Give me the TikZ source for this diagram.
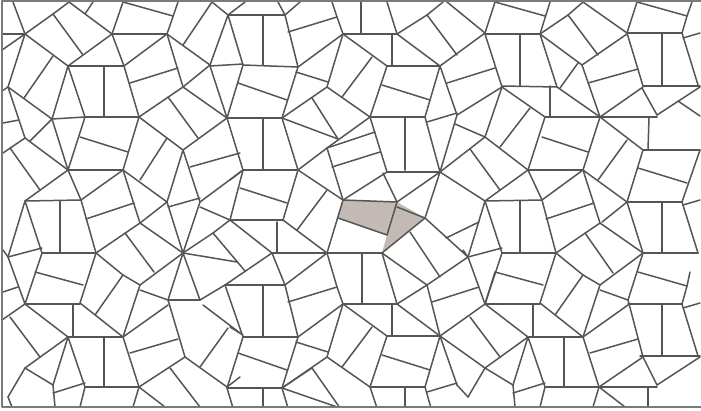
\documentclass[tikz,border=0pt]{standalone}
\usepackage{tikz}
\definecolor{TileLine}{HTML}{555555}
\definecolor{TileFill}{HTML}{C4BAB5}
\definecolor{FrameGrey}{HTML}{7A7A7A}

\begin{document}
\begin{tikzpicture}[x=1pt, y=-1pt, line cap=round, line join=round]
    \tikzstyle{edge} = [draw=TileLine, line width=1.5pt]
    \tikzstyle{marked} = [fill=TileFill, draw=none]
    \tikzstyle{frame} = [draw=FrameGrey, line width=1.6pt]
    \useasboundingbox (0,0) rectangle (701,410);

    % the highlighted tile pair
    \path [marked] (343,200) -- (397,202) -- (425,218) -- (382,253) -- (387,235) -- (338,218) -- cycle;

    \begin{scope}
    \clip (2,1) rectangle (701,407);
    % upper left
    \foreach \xa/\ya/\xb/\yb in {13/2/25/34, 2/34/25/34, 25/34/2/50, 25/34/53/14, 53/14/69/2, 69/2/112/34,
        85/14/93/2, 53/14/83/55, 68/66/112/34, 25/34/68/66, 25/34/8/87, 8/87/52/119, 53/56/24/98,
        68/66/52/119, 68/66/85/117, 68/66/124/66, 104/66/104/117, 85/117/139/117, 124/66/139/117,
        112/34/123/2, 123/2/173/16, 167/34/178/2, 112/34/167/34, 112/34/124/66, 124/66/167/34,
        167/34/183/87, 130/83/178/68, 139/117/183/87, 167/34/210/65, 183/45/212/2, 212/2/228/15,
        228/15/210/65, 210/65/183/87, 210/66/243/64, 210/66/227/118, 183/87/227/118, 168/97/198/138,
        139/117/183/150, 227/118/183/150, 52/119/85/117, 52/119/68/170, 85/117/68/170, 52/119/30/141,
        8/87/25/138, 8/87/2/91, 3/123/19/120, 80/137/128/152, 139/117/123/170, 167/138/140/180}
        \draw [edge] (\xa,\ya) -- (\xb,\yb);
    % middle left
    \foreach \xa/\ya/\xb/\yb in {3/153/25/138, 25/138/68/170, 10/148/40/190, 68/170/123/170, 68/170/81/200,
        25/201/68/170, 25/201/81/200, 60/201/60/253, 25/201/42/253, 42/253/96/253, 81/200/96/253,
        81/200/123/170, 123/170/140/223, 86/219/134/203, 96/253/140/223, 123/170/167/202,
        183/150/167/202, 167/202/140/223, 140/223/183/253, 125/233/154/272, 183/253/167/202,
        183/253/200/202, 168/207/200/198, 183/150/200/202, 190/167/240/153, 227/118/243/170,
        200/202/243/170, 200/207/230/220, 213/233/230/220, 183/253/213/233,
        183/253/237/262, 213/233/245/271, 183/253/168/300, 183/253/200/300, 183/253/140/285,
        25/201/8/257, 3/250/8/257, 8/257/42/248, 8/257/25/304, 42/253/25/304, 96/253/123/275}
        \draw [edge] (\xa,\ya) -- (\xb,\yb);
    % upper middle
    \foreach \xa/\ya/\xb/\yb in {228/15/245/2, 228/15/285/15, 263/15/263/65, 228/15/243/65, 243/65/298/67,
        285/15/298/67, 278/2/285/15, 285/15/300/2, 243/65/227/118, 238/83/287/100, 298/67/282/118,
        298/67/343/34, 288/32/337/17, 337/17/343/34, 332/2/337/17, 343/34/397/34, 361/2/361/34,
        387/2/397/34, 343/34/327/87, 343/34/387/66, 372/57/342/97, 392/34/392/66, 387/66/440/66,
        397/34/440/66, 397/34/427/15, 427/15/443/2, 427/15/457/55, 387/66/370/117, 327/87/370/117,
        312/98/338/139, 327/87/282/118, 296/72/328/82, 227/118/282/118, 263/118/263/170,
        282/118/298/170, 282/118/338/139, 370/117/425/117, 405/117/405/170,
        370/117/387/172, 382/85/430/100, 440/66/425/117, 440/66/457/115, 427/122/457/113,
        447/2/485/33, 440/66/485/33, 447/83/495/68, 457/115/502/87, 455/124/485/137}
        \draw [edge] (\xa,\ya) -- (\xb,\yb);
    % centre
    \foreach \xa/\ya/\xb/\yb in {243/170/298/170, 230/180/243/170, 243/170/230/220, 240/188/287/203,
        298/170/283/220, 230/220/283/220, 277/222/277/253, 298/170/343/200, 298/170/327/148,
        327/148/343/200, 327/148/370/117, 327/190/297/230, 283/220/327/253, 230/220/272/253,
        272/253/327/253, 343/200/327/253, 343/200/397/202, 338/218/387/235, 397/202/387/235,
        397/207/425/218, 425/218/382/253, 343/200/387/172, 332/167/380/152, 327/148/375/132,
        387/172/440/172, 383/173/397/202, 440/172/397/202, 440/172/425/218,
        440/172/485/201, 440/172/485/137, 425/117/440/172, 457/115/440/172, 425/218/468/257,
        446/238/479/222, 410/232/440/277, 382/253/327/253, 362/253/362/304, 327/253/285/285,
        327/253/337/287, 382/253/397/304, 382/253/427/285, 427/285/468/257, 272/253/225/285,
        272/253/285/285}
        \draw [edge] (\xa,\ya) -- (\xb,\yb);
    % lower middle
    \foreach \xa/\ya/\xb/\yb in {225/285/285/285, 263/285/263/337, 225/285/243/337, 243/337/298/337,
        285/285/298/337, 230/327/243/335, 243/337/227/388, 238/353/287/370, 298/337/282/388,
        298/337/343/304, 288/302/337/287, 337/287/343/304, 343/304/397/304, 343/304/327/357,
        343/304/387/336, 372/327/342/367, 392/304/392/336, 387/336/440/336, 397/304/440/336,
        397/304/427/285, 427/285/440/336, 432/302/479/287, 440/336/485/304, 440/336/485/368,
        387/336/370/387, 327/357/370/387, 312/368/340/408, 327/357/282/388, 296/342/328/352,
        227/388/282/388, 263/388/263/408, 282/388/312/368, 370/387/425/387, 405/387/405/408,
        370/387/377/408, 382/355/430/370, 440/336/425/387, 440/336/457/385, 427/392/457/383,
        282/388/340/408, 200/300/225/285, 282/388/288/408, 425/387/431/408, 227/388/233/408,
        457/385/468/397}
        \draw [edge] (\xa,\ya) -- (\xb,\yb);
    % lower left
    \foreach \xa/\ya/\xb/\yb in {3/292/18/287, 35/272/83/285, 96/253/80/303, 25/304/80/304,
        73/304/73/337, 68/337/123/337, 25/304/68/337, 80/303/123/337, 95/315/123/275,
        123/275/140/285, 140/285/123/337, 140/290/168/300, 168/300/200/300,
        68/337/85/387, 104/337/104/387, 85/387/139/387, 123/337/139/387, 123/337/168/305,
        130/353/178/339, 139/387/185/357, 168/300/185/357, 68/337/53/385, 68/337/25/368,
        10/317/40/357, 25/304/2/320, 25/368/53/385, 25/368/8/397, 53/393/85/383, 53/385/55/407,
        203/305/240/333, 200/367/228/328, 185/357/227/387, 170/368/200/407, 227/387/240/377,
        85/387/80/407, 139/387/133/407, 139/387/165/407, 8/397/12/407}
        \draw [edge] (\xa,\ya) -- (\xb,\yb);
    % upper right
    \foreach \xa/\ya/\xb/\yb in {485/33/495/2, 495/2/545/16, 540/34/550/2, 485/34/540/34, 520/34/520/86,
        485/34/502/87, 502/86/557/87, 540/34/557/87, 550/86/550/117, 557/87/600/117,
        540/34/568/15, 568/15/583/2, 568/15/598/55, 540/34/582/65, 582/65/627/34, 582/65/600/117,
        578/63/560/88, 583/2/627/33, 627/33/682/33, 662/33/662/86, 627/33/643/86, 643/86/700/86,
        682/33/698/85, 683/38/700/33, 637/2/627/33, 637/2/687/16, 687/16/692/2, 687/16/682/33,
        588/83/638/69, 600/117/643/87, 642/88/657/115, 657/115/700/87, 649/117/648/150,
        545/117/600/117, 600/117/657/117, 502/87/545/117, 502/87/485/137, 530/108/500/147,
        545/117/528/170, 600/117/583/170, 542/137/588/152, 600/117/643/150, 598/180/627/140,
        678/101/700/116}
        \draw [edge] (\xa,\ya) -- (\xb,\yb);
    % middle right
    \foreach \xa/\ya/\xb/\yb in {485/137/528/170, 470/149/500/190, 528/170/583/170,
        528/170/542/200, 485/201/528/170, 485/201/542/200, 520/201/520/253, 485/201/502/253,
        502/253/556/253, 542/200/556/253, 542/200/583/170, 583/170/600/223, 546/219/594/203,
        556/253/600/223, 583/170/627/202, 643/150/700/150, 643/150/627/202, 638/168/687/183,
        700/150/682/202, 627/202/682/202, 662/202/662/253, 627/202/643/253, 643/253/698/253,
        682/202/698/253, 683/205/700/200, 600/223/643/253, 585/233/613/273, 627/202/602/222,
        485/201/468/257, 468/257/502/248, 463/250/468/257, 468/257/485/304, 502/253/485/304}
        \draw [edge] (\xa,\ya) -- (\xb,\yb);
    % lower right
    \foreach \xa/\ya/\xb/\yb in {485/304/495/272, 495/272/543/285, 556/253/540/303,
        485/304/540/304, 533/304/533/337, 528/337/583/337, 485/304/528/337, 540/303/583/337,
        555/315/583/275, 583/275/600/285, 600/285/583/337, 600/285/643/253, 556/253/583/275,
        600/290/628/300, 628/300/643/357, 643/253/628/300, 528/337/545/387, 564/337/564/387,
        545/387/599/387, 583/337/599/387, 583/337/628/305, 590/353/638/339, 599/387/643/357,
        528/337/513/385, 528/337/485/368, 470/317/500/357, 485/368/513/385, 485/368/468/397,
        513/393/545/383, 513/385/515/407, 628/304/682/304, 662/304/662/356, 640/356/700/356,
        682/304/698/356, 683/308/700/303, 638/272/687/286, 687/286/682/304, 690/272/687/286,
        599/387/657/387, 643/357/657/385, 657/385/700/357, 648/387/648/407, 545/387/540/407,
        599/387/593/407, 599/387/625/407}
        \draw [edge] (\xa,\ya) -- (\xb,\yb);
    \end{scope}

    % frame
    \draw [frame] (701,1) -- (2,1) -- (2,407) -- (701,407);
\end{tikzpicture}
\end{document}
